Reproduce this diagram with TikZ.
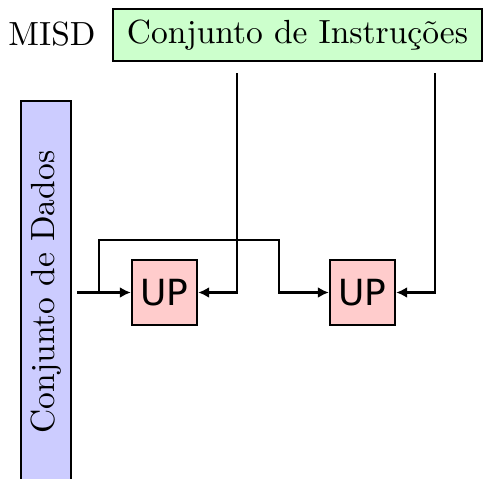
\documentclass[tikz,border=0pt]{standalone}
\usepackage{fontspec}
\newfontfamily\upfont{DejaVu Sans}
\newfontfamily\lblfont{lmroman10-regular.otf}
\usetikzlibrary{arrows.meta}
\definecolor{instrfill}{HTML}{CCFFCC}
\definecolor{datafill}{HTML}{CCCCFF}
\definecolor{upfill}{HTML}{FFCCCC}
\begin{document}
\begin{tikzpicture}[x=1pt,y=-1pt,line width=2.4pt,
  box/.style={draw,line width=2.4pt,inner sep=0pt},
  lbl/.style={font=\lblfont\fontsize{33.5}{38}\selectfont},
  unit/.style={box,fill=upfill,minimum width=65pt,minimum height=65pt,
    font=\upfont\fontsize{36}{40}\selectfont},
  flow/.style={-{Latex[length=11pt,width=11pt]}},
]
\useasboundingbox (0,0) rectangle (485,479);

% instruction stream and data stream
\node[box,lbl,fill=instrfill,minimum width=369pt,minimum height=52pt]
  (instr) at (297.5,35) {Conjunto de Instruções};
\node[lbl] (misd) at (52,34) {MISD};
\node[box,lbl,fill=datafill,rotate=90,minimum width=382pt,minimum height=50pt]
  (data) at (46,292) {Conjunto de Dados};

% processing units
\node[unit] (up1) at (164.5,292.5) {UP};
\node[unit] (up2) at (362.5,292.5) {UP};

% routing points
\coordinate (c1) at (237,0);
\coordinate (c2) at (435,0);
\coordinate (j1) at (99,292.5);
\coordinate (j2) at (279,240);

% data into the first unit, and forwarded to the second
\draw[flow,shorten <=5pt] (data.south |- up1.west) -- (up1.west);
\draw[flow] (j1) -- (j1 |- j2) -- (j2) -- (j2 |- up2.west) -- (up2.west);

% instructions into each unit
\draw[flow,shorten <=11pt] (instr.south -| c1) |- (up1.east);
\draw[flow,shorten <=11pt] (instr.south -| c2) |- (up2.east);
\end{tikzpicture}
\end{document}
